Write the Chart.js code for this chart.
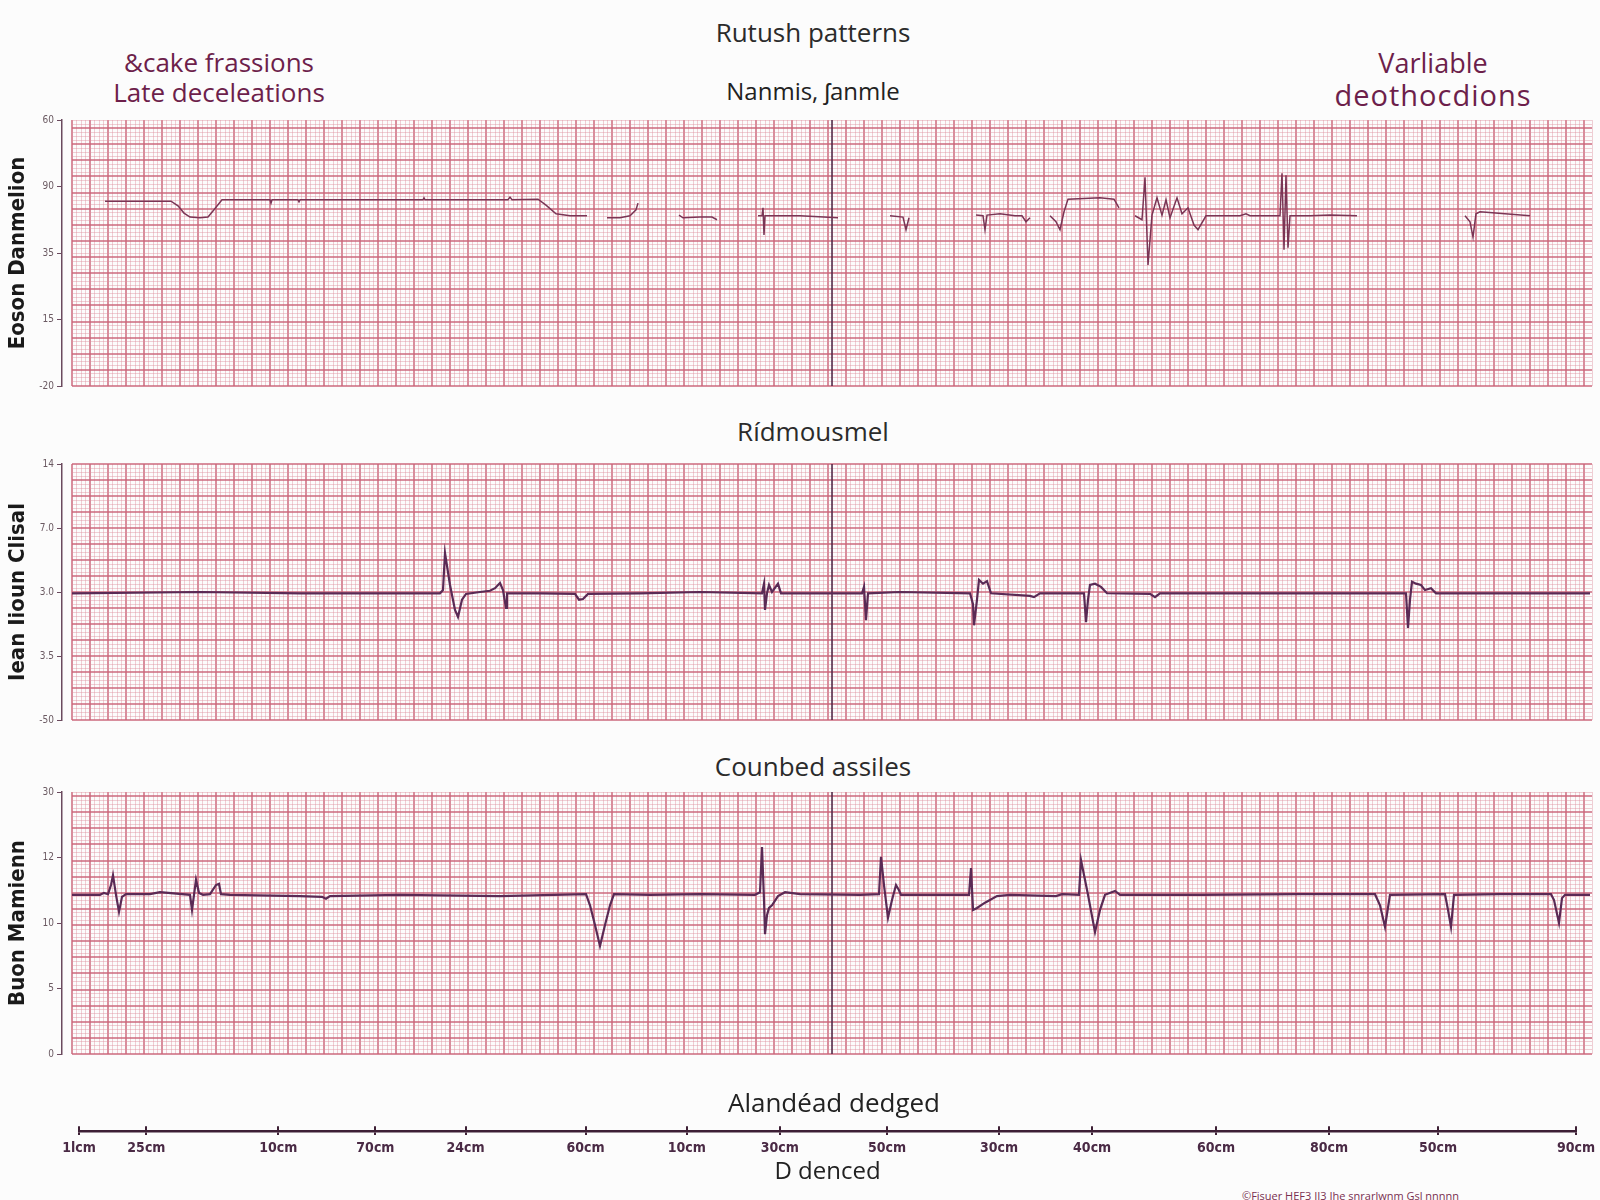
<!DOCTYPE html>
<html><head><meta charset="utf-8">
<script src="https://cdn.jsdelivr.net/npm/chart.js@4.4.1/dist/chart.umd.min.js"></script>
<style>
body{margin:0;background:#fcfcfc;width:1600px;height:1200px;overflow:hidden;position:relative;font-family:'Open Sans',sans-serif;}
.t{position:absolute;white-space:nowrap;transform:translate(-50%,-50%);line-height:1;}
canvas{position:absolute;left:0;}
</style></head><body>
<div class="t" style="left:813px;top:32px;font-size:26px;color:#2b2b2b">Rutush patterns</div>
<div class="t" style="left:813px;top:91px;font-size:24px;color:#222">Nanmis, ʃanmle</div>
<div class="t" style="left:219px;top:62px;font-size:26px;color:#6d1f4b">&amp;cake frassions</div>
<div class="t" style="left:219px;top:92px;font-size:26px;color:#6d1f4b">Late deceleations</div>
<div class="t" style="left:1433px;top:62px;font-size:27px;color:#6d1f4b">Varliable</div>
<div class="t" style="left:1433px;top:94px;font-size:29px;color:#6d1f4b;letter-spacing:1px">deothocdions</div>
<div class="t" style="left:813px;top:431px;font-size:26px;color:#2b2b2b">Rídmousmel</div>
<div class="t" style="left:813px;top:766px;font-size:26px;color:#2b2b2b">Counbed assiles</div>
<div style="position:absolute;left:1242px;top:1188px;font-size:11px;color:#7a3050;white-space:nowrap">©Fisuer HEF3 II3 Ihe snrarlwnm Gsl nnnnn</div>

<canvas id="c1" width="1600" height="300" style="top:100px"></canvas>
<canvas id="c2" width="1600" height="300" style="top:440px"></canvas>
<canvas id="c3" width="1600" height="300" style="top:770px"></canvas>
<canvas id="c4" width="1600" height="115" style="top:1085px"></canvas>

<script>
// ---- data ----
const xMax = 1520;          // trace sample range
const centerMark = 760;     // vertical marker position

const p1Ticks = ['-20', '15', '35', '90', '60'];
const p2Ticks = ['-50', '3.5', '3.0', '7.0', '14'];
const p3Ticks = ['0', '5', '10', '12', '30'];

const p1Title = 'Eoson Danmelion';
const p2Title = 'Iean Iioun Clisal';
const p3Title = 'Buon Mamienn';

// panel 1 (null = gap in trace)
const p1x = [33,99,106,112,118,128,136,142,150,198,199,200,226,227,228,351,352,353,436,438,440,466,474,484,498,515,516,
  535,548,558,564,566,567,
  607,611,628,640,645,646,
  686,690,691,692,693,728,766,767,
  818,831,834,837,838,
  904,911,913,915,928,943,950,954,958,959,
  978,984,988,992,996,1028,1042,1047,1048,
  1063,1070,1073,1076,1080,1085,1090,1094,1098,1105,1110,1116,1122,1126,1134,1168,1174,1178,1208,1210,1212,1214,1216,1218,1238,1258,1285,1286,
  1393,1398,1401,1404,1408,1458];
const p1y = [2.78,2.78,2.71,2.60,2.54,2.53,2.54,2.65,2.80,2.80,2.75,2.80,2.80,2.77,2.80,2.80,2.83,2.80,2.80,2.84,2.80,2.81,2.72,2.59,2.56,2.56,null,
  2.53,2.53,2.56,2.65,2.75,null,
  2.57,2.53,2.54,2.54,2.50,null,
  2.56,2.56,2.68,2.27,2.56,2.56,2.53,null,
  2.56,2.54,2.35,2.53,null,
  2.57,2.56,2.35,2.57,2.59,2.56,2.56,2.47,2.53,null,
  2.56,2.47,2.35,2.62,2.81,2.83,2.81,2.68,null,
  2.56,2.50,3.14,1.82,2.57,2.83,2.57,2.80,2.53,2.83,2.59,2.68,2.42,2.35,2.56,2.56,2.59,2.56,2.56,3.20,2.05,3.17,2.08,2.56,2.56,2.57,2.56,null,
  2.56,2.47,2.24,2.59,2.62,2.56];

// panel 2
const p2x = [0,128,228,368,371,373,378,383,386,390,394,408,418,423,428,431,434,435,468,503,507,511,516,568,628,690,692,693,695,697,700,706,709,
  790,792,794,796,828,898,901,902,905,907,911,915,919,958,962,968,1012,1014,1016,1018,1023,1029,1035,1078,1083,1088,1228,
  1334,1336,1338,1340,1344,1349,1353,1359,1364,1428,1518];
const p2y = [1.98,2.00,1.98,1.98,2.03,2.61,2.11,1.72,1.61,1.88,1.97,2.00,2.02,2.06,2.14,2.03,1.75,1.98,1.98,1.97,1.88,1.89,1.97,1.98,2.00,1.98,2.13,1.72,1.98,2.11,2.00,2.13,1.98,
  1.98,2.08,1.56,1.98,2.00,1.98,1.81,1.48,1.88,2.19,2.13,2.17,1.98,1.94,1.92,1.98,1.98,1.53,1.88,2.11,2.13,2.08,1.98,1.97,1.92,1.98,1.98,
  1.98,1.44,1.88,2.16,2.13,2.11,2.03,2.06,1.98,1.98,1.98];

// panel 3
const p3x = [0,28,32,36,39,41,44,47,50,54,78,88,118,120,122,124,127,131,138,144,147,149,158,228,250,254,258,328,428,
  514,518,523,528,533,538,542,578,628,683,688,690,692,693,695,697,700,706,713,728,788,807,809,812,816,820,824,827,829,
  888,897,899,901,905,913,925,938,984,990,1007,1009,1016,1023,1028,1033,1043,1048,1128,1228,
  1303,1308,1313,1318,1373,1376,1379,1382,1428,1479,1482,1487,1490,1493,1518];
const p3y = [2.43,2.43,2.46,2.44,2.58,2.73,2.43,2.17,2.40,2.44,2.44,2.47,2.43,2.20,2.43,2.66,2.46,2.43,2.44,2.58,2.60,2.44,2.43,2.41,2.40,2.37,2.41,2.43,2.41,
  2.44,2.27,1.97,1.65,1.97,2.27,2.44,2.43,2.44,2.43,2.47,3.16,2.35,1.83,2.12,2.23,2.27,2.41,2.47,2.44,2.43,2.44,3.01,2.58,2.08,2.35,2.58,2.50,2.43,
  2.43,2.43,2.84,2.20,2.23,2.31,2.41,2.43,2.41,2.44,2.43,2.96,2.43,1.86,2.20,2.43,2.49,2.43,2.43,2.44,
  2.44,2.27,1.94,2.43,2.44,2.20,1.94,2.43,2.44,2.44,2.35,2.00,2.38,2.43,2.43];

// bottom axis
const bottomTickPos = [0,68,201,299,390,511,613,707,815,928,1022,1147,1261,1371,1510];
const bottomTickLabels = ['1lcm','25cm','10cm','70cm','24cm','60cm','10cm','30cm','50cm','30cm','40cm','60cm','80cm','50cm','90cm'];
const bottomTitle = 'Alandéad dedged';
const bottomAxisTitle = 'D denced';

// ---- drawing ----
const MAJOR = 'rgba(202,100,120,0.72)';
const MINOR = 'rgba(222,142,158,0.42)';
const XSTEP = 4.5;   // minor grid step (samples)
const condensed = "'Liberation Sans Narrow','DejaVu Sans Condensed','Roboto Condensed','Arial Narrow',sans-serif";

function isMajorX(c) { return c.tick && Math.round(c.tick.value / XSTEP) % 4 === 0; }
function isMajorY(c) { return c.tick && Math.round(c.tick.value) % 4 === 0; }

function panel(id, xs, ys, tickLabels, yTitle, gridRows, padTop, padBottom, lineW, lineC) {
  const pts = xs.map((x, i) => ({x: x, y: ys[i]}));
  new Chart(document.getElementById(id), {
    type: 'line',
    data: {datasets: [
      {data: pts, borderColor: lineC, borderWidth: lineW, pointRadius: 0, tension: 0, spanGaps: false, xAxisID: 'x', yAxisID: 'y'},
      {data: [{x: centerMark, y: 0}, {x: centerMark, y: 4}], borderColor: '#4a2545', borderWidth: 1.5, pointRadius: 0, xAxisID: 'x', yAxisID: 'y'}
    ]},
    options: {
      responsive: false, animation: false, events: [],
      layout: {padding: {top: padTop, bottom: padBottom, left: 0, right: 8}},
      plugins: {legend: {display: false}, tooltip: {enabled: false}, title: {display: false}},
      scales: {
        x: {type: 'linear', axis: 'x', position: 'bottom', min: 0, max: xMax,
          ticks: {display: false, stepSize: XSTEP}, border: {display: false},
          grid: {drawTicks: false,
            color: c => isMajorX(c) ? MAJOR : MINOR,
            lineWidth: c => isMajorX(c) ? 2 : 1}},
        yg: {type: 'linear', axis: 'y', position: 'left', weight: 0, min: 0, max: gridRows,
          ticks: {display: false, stepSize: 1}, border: {display: false},
          grid: {drawTicks: false,
            color: c => isMajorY(c) ? MAJOR : MINOR,
            lineWidth: c => isMajorY(c) ? 2 : 1},
          afterFit: s => { s.width = 10; }},
        y: {type: 'linear', axis: 'y', position: 'left', weight: 1, min: 0, max: 4,
          ticks: {stepSize: 1, callback: v => tickLabels[v], font: {size: 10, family: condensed}, color: '#6b5a62', padding: 3},
          border: {display: true, color: '#6b4a5e', width: 1.5},
          grid: {drawOnChartArea: false, drawTicks: true, tickLength: 5, color: '#6b4a5e'},
          title: {display: true, text: yTitle, font: {size: 22, family: condensed, weight: 'bold'}, color: '#1a1a1a', padding: {top: 5, bottom: 0}},
          afterFit: s => { s.width = 62; }}
      }
    }
  });
}

panel('c1', p1x, p1y, p1Ticks, p1Title, 66, 20, 14, 1.5, '#7a3555');
panel('c2', p2x, p2y, p2Ticks, p2Title, 64, 24, 20, 2.2, '#5a2a55');
panel('c3', p3x, p3y, p3Ticks, p3Title, 65, 22, 16, 2.2, '#5a2a55');

new Chart(document.getElementById('c4'), {
  type: 'line',
  data: {datasets: [{data: []}]},
  options: {
    responsive: false, animation: false, events: [],
    layout: {padding: {top: 0, bottom: 9, left: 79, right: 11}},
    plugins: {legend: {display: false}, tooltip: {enabled: false},
      title: {display: true, text: bottomTitle, color: '#222', font: {size: 26, family: "'Open Sans',sans-serif", weight: 'normal'}, padding: {top: 4, bottom: 6}}},
    scales: {
      x: {type: 'linear', position: 'bottom', min: 0, max: 1510,
        afterBuildTicks: s => { s.ticks = bottomTickPos.map(v => ({value: v})); },
        ticks: {autoSkip: false, maxRotation: 0, callback: (v, i) => bottomTickLabels[i], font: {size: 14, family: condensed, weight: '600'}, color: '#4a2a45', padding: 5},
        border: {display: true, color: '#3d1f35', width: 2.5},
        grid: {drawOnChartArea: true, drawTicks: true, tickLength: 4, color: '#3d1f35', lineWidth: 2},
        title: {display: true, text: bottomAxisTitle, color: '#222', font: {size: 24, family: "'Open Sans',sans-serif"}, padding: {top: 2, bottom: 4}},
        afterFit: s => { s.height = 60; }},
      y: {display: false, min: 0, max: 1}
    }
  }
});
</script>
</body></html>
